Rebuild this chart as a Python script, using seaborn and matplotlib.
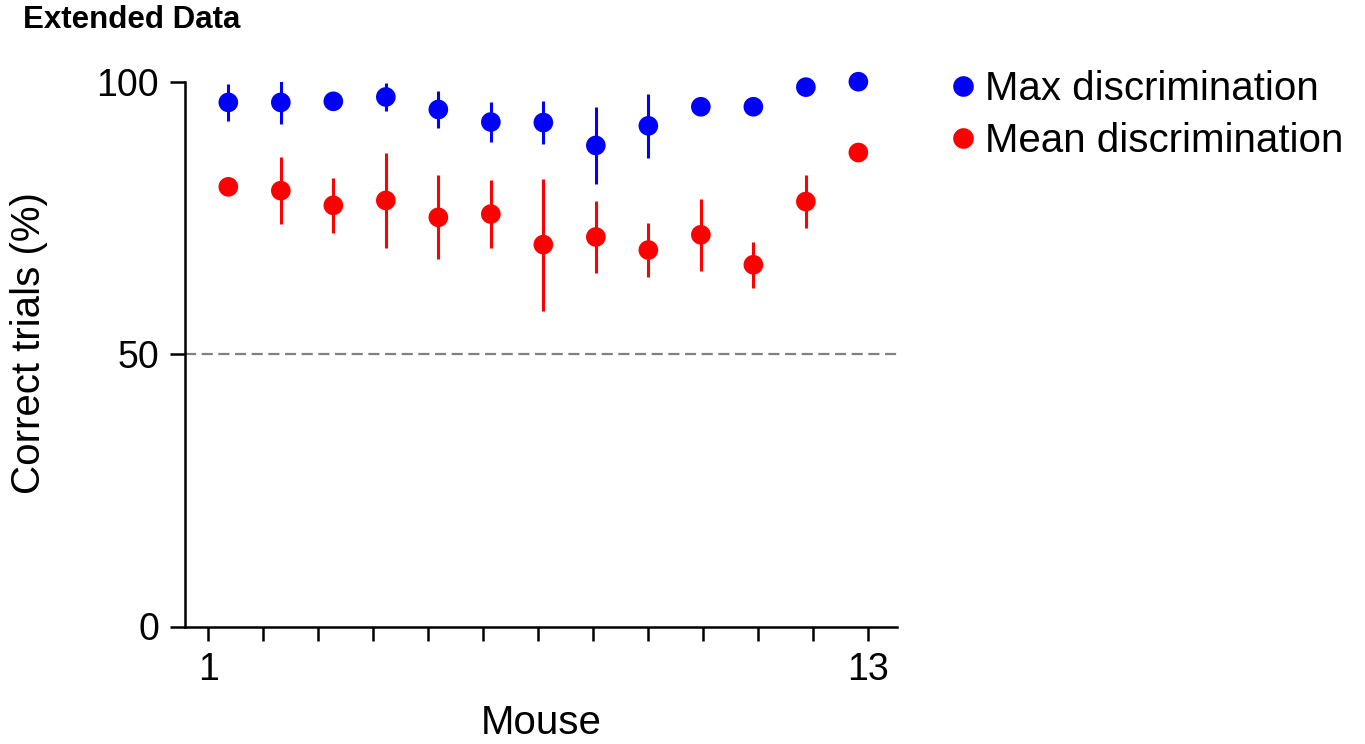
import numpy as np
import pandas as pd
import seaborn as sns
import matplotlib
matplotlib.use("Agg")
import matplotlib.pyplot as plt

# --- data ---
mouse = [1, 2, 3, 4, 5, 6, 7, 8, 9, 10, 11, 12, 13]
max_disc = [96.2, 96.2, 96.4, 97.2, 94.9, 92.6, 92.5, 88.3, 91.9, 95.4, 95.4, 99.0, 100.0]
max_err = [3.4, 4.0, 0.0, 2.6, 3.4, 3.7, 3.9, 7.0, 5.9, 0.0, 0.0, 1.0, 0.0]
mean_disc = [80.7, 80.0, 77.3, 78.2, 75.1, 75.7, 70.1, 71.5, 69.1, 71.9, 66.4, 78.0, 87.0]
mean_err = [0.0, 6.1, 5.0, 8.7, 7.7, 6.3, 12.1, 6.6, 5.0, 6.6, 4.2, 4.8, 0.0]
series = ["Max discrimination", "Mean discrimination"]
colors = {"Max discrimination": "#0000FF", "Mean discrimination": "#FF0000"}

df = pd.concat([
    pd.DataFrame({"mouse": mouse, "correct": max_disc, "err": max_err, "kind": series[0]}),
    pd.DataFrame({"mouse": mouse, "correct": mean_disc, "err": mean_err, "kind": series[1]}),
], ignore_index=True)

sns.set_style("ticks", {"axes.edgecolor": "black", "text.color": "black",
                        "axes.labelcolor": "black", "xtick.color": "black",
                        "ytick.color": "black"})
plt.rcParams["font.family"] = ["Liberation Sans", "DejaVu Sans"]

fig = plt.figure(figsize=(13.65, 7.44), dpi=100)
ax = fig.add_axes([185 / 1365, 1 - 626.5 / 744, (896.7 - 185) / 1365, (626.5 - 81.7) / 744])

ax.axhline(50, color="#808080", lw=1.6, ls=(0, (5, 2.5)), zorder=1)

for kind, sub in df.groupby("kind"):
    ax.errorbar(sub["mouse"], sub["correct"], yerr=sub["err"], fmt="none",
                ecolor=colors[kind], elinewidth=2.2, capsize=0, zorder=2)

sns.scatterplot(data=df, x="mouse", y="correct", hue="kind", hue_order=series,
                palette=colors, s=200, linewidth=0, ax=ax, zorder=3, clip_on=False)

ax.set_xlim(0.175, 13.73)
ax.set_ylim(0, 100)
tick_pos = np.linspace(0.62, 13.19, 13)
ax.set_xticks(tick_pos)
ax.set_xticklabels(["1"] + [""] * 11 + ["13"])
ax.set_yticks([0, 50, 100])

sns.despine(ax=ax)
for sp in ["left", "bottom"]:
    ax.spines[sp].set_linewidth(1.8)
ax.tick_params(axis="y", length=10.8, width=1.8, labelsize=27, pad=8, colors="black")
ax.tick_params(axis="x", length=10.2, width=1.8, labelsize=27, pad=8, colors="black")

ax.set_xlabel("Mouse", fontsize=29, labelpad=12, color="black")
ax.set_ylabel("Correct trials (%)", fontsize=29, color="black")
ax.yaxis.set_label_coords(-0.1925, 0.52)

leg = ax.legend(loc="upper left", bbox_to_anchor=(951 / 1365, 1 - 70 / 744),
                bbox_transform=fig.transFigure, frameon=False, fontsize=29,
                handlelength=0.6, handletextpad=0.25, borderpad=0, borderaxespad=0,
                labelspacing=0.36, markerscale=1.05)
for t in leg.get_texts():
    t.set_color("black")

fig.text(23 / 1365, 1 - 20 / 744, "Extended Data", fontsize=22.5, fontweight="bold",
         va="center", ha="left", color="black")

fig.savefig("out.png", dpi=100)
